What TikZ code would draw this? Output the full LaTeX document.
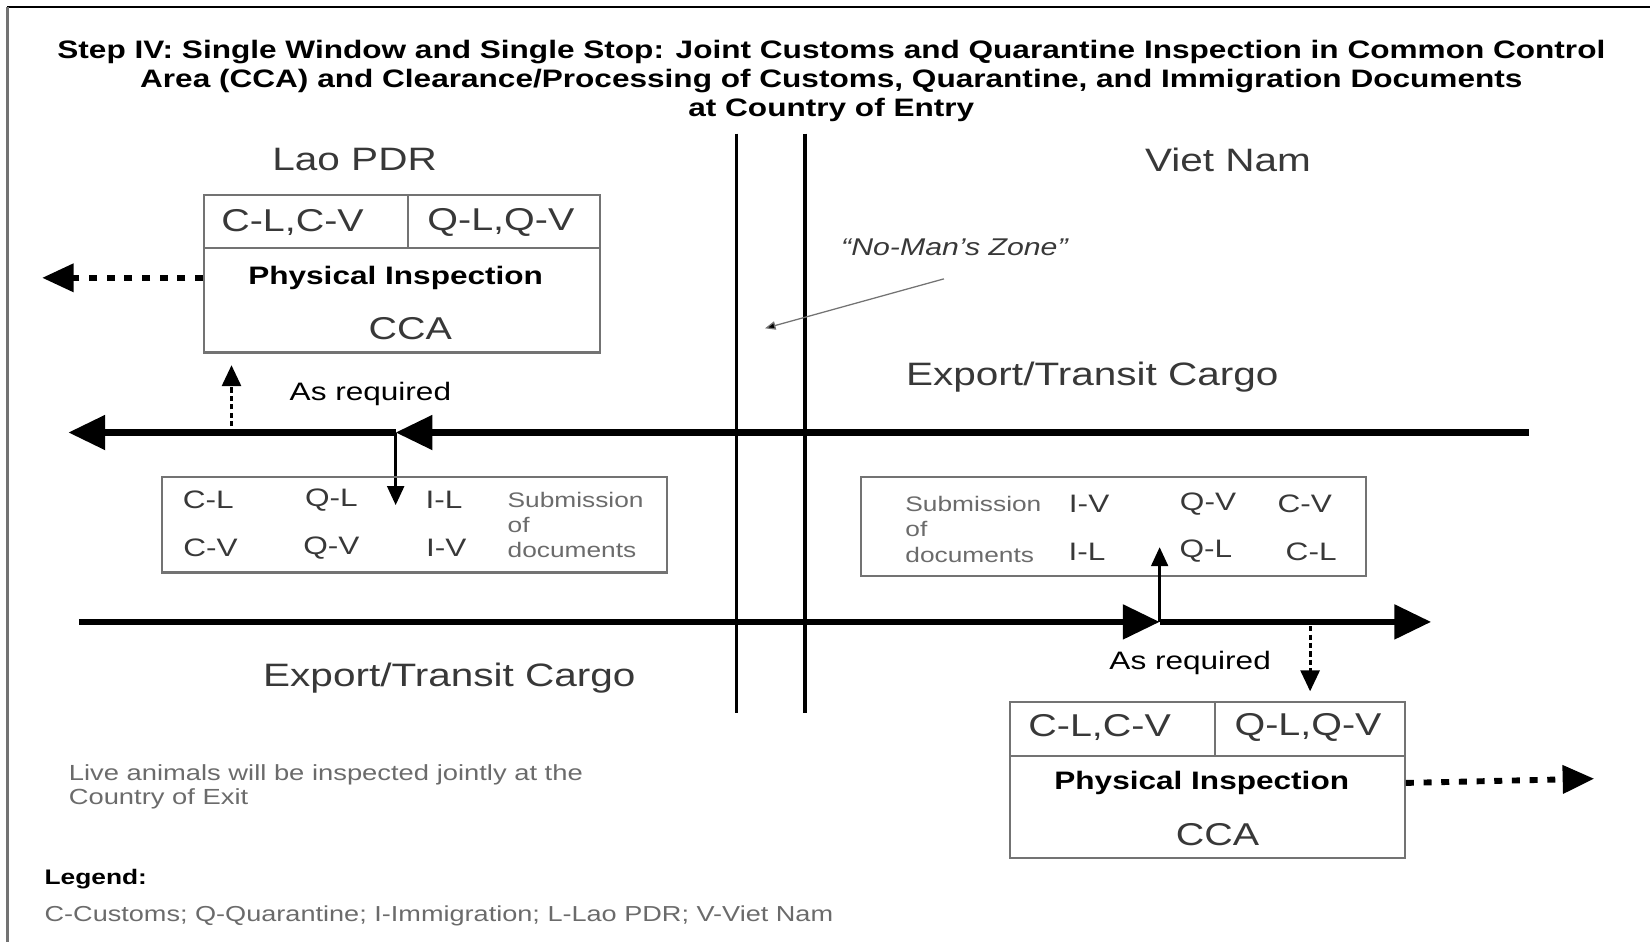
\documentclass[tikz,border=0pt]{standalone}
\usepackage{fontspec}
\setmainfont[FakeStretch=1.25]{Liberation Sans}
\usetikzlibrary{arrows.meta}
\definecolor{boxgray}{gray}{0.45}
\definecolor{txtgray}{gray}{0.22}
\definecolor{subgray}{gray}{0.42}
\tikzset{
	headline/.style={inner sep=0,align=center,font=\fontsize{12}{13.75}\selectfont\bfseries},
	country/.style={inner sep=0,text=txtgray,font=\fontsize{15.4}{17}\selectfont},
	cellt/.style={inner sep=0,text=txtgray,font=\fontsize{15}{17}\selectfont},
	bolder/.style={inner sep=0,font=\fontsize{12}{14}\selectfont\bfseries},
	codet/.style={inner sep=0,text=txtgray,font=\fontsize{12}{14}\selectfont},
	subm/.style={inner sep=0,anchor=west,align=left,text=subgray,font=\fontsize{10}{12}\selectfont},
	reqt/.style={inner sep=0,font=\fontsize{12}{14}\selectfont},
	zonet/.style={inner sep=0,text=txtgray,font=\fontsize{11.5}{13}\selectfont\itshape},
	cargot/.style={inner sep=0,text=txtgray,font=\fontsize{15.4}{17}\selectfont},
	notet/.style={inner sep=0,anchor=west,align=left,text=subgray,font=\fontsize{10.4}{11.5}\selectfont},
	legendt/.style={inner sep=0,anchor=west,font=\fontsize{10}{12}\selectfont\bfseries},
	legendline/.style={inner sep=0,anchor=west,text=subgray,font=\fontsize{10.3}{12}\selectfont},
	ccabox/.style={draw=boxgray,line width=1pt,minimum width=188pt,minimum height=75pt,inner sep=0},
	docbox/.style={draw=boxgray,line width=1pt,minimum width=240pt,inner sep=0},
	divider/.style={boxgray,line width=1pt},
	zoneline/.style={line width=1.5pt},
	cargo/.style={line width=3pt,-{Triangle[length=17.5pt,width=16pt]}},
	outflow/.style={line width=2.8pt,dash pattern=on 3.8pt off 4.6pt,-{Triangle[length=15pt,width=13pt]}},
	dotarrow/.style={line width=1.5pt,dash pattern=on 2.5pt off 1.5pt,-{Triangle[length=10pt,width=9pt]}},
	thinarrow/.style={line width=1.2pt,-{Triangle[length=9pt,width=8pt]}},
	pointer/.style={boxgray,line width=0.6pt,-{Triangle[length=5pt,width=4pt,fill=black]}}
}

\begin{document}
\begin{tikzpicture}[x=0.5pt,y=-0.5pt]
			\useasboundingbox (0,0) rectangle (1568,895);
			\draw[line width=1pt] (7,7) -- (1568,7);
			\draw[boxgray,line width=1.5pt] (7,7) -- (7,895);

			\node[headline] (head) at (790,77) {Step IV: Single Window and Single Stop: Joint Customs and Quarantine Inspection in Common Control\\Area (CCA) and Clearance/Processing of Customs, Quarantine, and Immigration Documents\\at Country of Entry};
			\node[country] (lao) at (337,152) {Lao PDR};
			\node[country] (viet) at (1167,152) {Viet Nam};

			\coordinate (z1top) at (700,127);
			\coordinate (z1bot) at (700,678);
			\coordinate (z2top) at (765,127);
			\coordinate (z2bot) at (765,678);
			\draw[zoneline] (z1top) -- (z1bot);
			\draw[zoneline] (z2top) -- (z2bot);

			\node[zonet] (zone) at (907,235) {“No-Man’s Zone”};
			\coordinate (zonefrom) at (897,265);
			\coordinate (zoneto) at (727,312);
			\draw[pointer] (zonefrom) -- (zoneto);

			\node[ccabox] (laocca) at (382,260) {};
			\draw[divider] (194,236) -- (570,236) (388,185) -- (388,236);
			\node[cellt] (laoc) at (278,211) {C-L,C-V};
			\node[cellt] (laoq) at (476,211) {Q-L,Q-V};
			\node[bolder] (laopi) at (376,264) {Physical Inspection};
			\node[cellt] (laoname) at (390,312) {CCA};
			\coordinate (laoout) at (40,264);
			\draw[outflow] (laocca.west |- laopi) -- (laoout);

			\node[reqt] (laoreq) at (352,374) {As required};
			\coordinate (laoup) at (220,405);
			\coordinate (laoupto) at (220,347);
			\draw[dotarrow] (laoup) -- (laoupto);

			\node[cargot] (exptop) at (1038,358) {Export/Transit Cargo};
			\coordinate (rtop) at (1453,411);
			\coordinate (jtop) at (376,411);
			\coordinate (ltop) at (65,411);
			\draw[cargo] (rtop) -- (jtop);
			\draw[cargo] (jtop) -- (ltop);
			\coordinate (laodocin) at (376,480);
			\draw[thinarrow] (jtop) -- (laodocin);

			\node[docbox,minimum height=45.5pt] (laodocs) at (394,498.5) {};
			\node[codet] (lcl) at (198,475) {C-L};
			\node[codet] (lql) at (315,475) {Q-L};
			\node[codet] (lil) at (422,475) {I-L};
			\node[codet] (lcv) at (200,521) {C-V};
			\node[codet] (lqv) at (315,521) {Q-V};
			\node[codet] (liv) at (424,521) {I-V};
			\node[subm] (laosub) at (482,499) {Submission\\of\\documents};

			\node[docbox,minimum height=47pt] (vietdocs) at (1058,500) {};
			\node[subm] (vietsub) at (860,503) {Submission\\of\\documents};
			\node[codet] (viv) at (1035,479) {I-V};
			\node[codet] (vqv) at (1148,479) {Q-V};
			\node[codet] (vcv) at (1240,479) {C-V};
			\node[codet] (vil) at (1033,524) {I-L};
			\node[codet] (vql) at (1146,524) {Q-L};
			\node[codet] (vcl) at (1246,524) {C-L};

			\coordinate (lbot) at (75,591);
			\coordinate (jbot) at (1102,591);
			\coordinate (rbot) at (1360,591);
			\draw[cargo] (lbot) -- (jbot);
			\draw[cargo] (jbot) -- (rbot);
			\coordinate (vietdocin) at (1102,520);
			\draw[thinarrow] (jbot) -- (vietdocin);
			\node[cargot] (expbot) at (427,644) {Export/Transit Cargo};

			\node[reqt] (vietreq) at (1131,630) {As required};
			\coordinate (vietdown) at (1245,595);
			\coordinate (vietdownto) at (1245,657);
			\draw[dotarrow] (vietdown) -- (vietdownto);

			\node[ccabox,minimum width=187.5pt,minimum height=74pt] (vietcca) at (1147.5,741) {};
			\draw[divider] (960,718) -- (1335,718) (1155,667) -- (1155,718);
			\node[cellt] (vietc) at (1045,691) {C-L,C-V};
			\node[cellt] (vietq) at (1243,691) {Q-L,Q-V};
			\node[bolder] (vietpi) at (1142,744) {Physical Inspection};
			\node[cellt] (vietname) at (1157,793) {CCA};
			\coordinate (vietout) at (1515,740);
			\draw[outflow] (vietcca.east |- vietpi) -- (vietout);

			\node[notet] (live) at (65,748) {Live animals will be inspected jointly at the\\Country of Exit};
			\node[legendt] (legend) at (42,835) {Legend:};
			\node[legendline] (legendtext) at (42,870) {C-Customs; Q-Quarantine; I-Immigration; L-Lao PDR; V-Viet Nam};
		\end{tikzpicture}
\end{document}
